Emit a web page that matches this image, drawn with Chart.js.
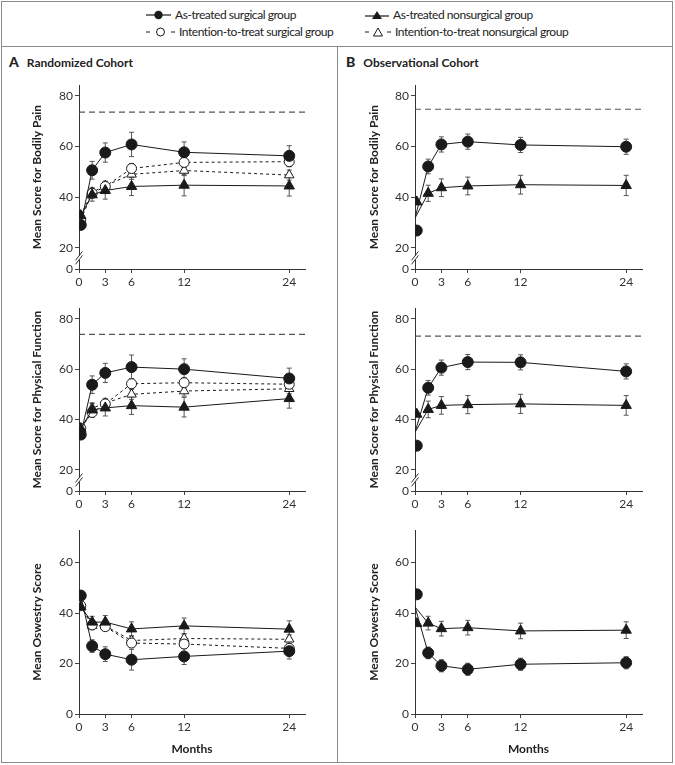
<!DOCTYPE html>
<html>
<head>
<meta charset="utf-8">
<title>Randomized and Observational Cohort Outcomes</title>
<script src="https://cdn.jsdelivr.net/npm/chart.js@4.4.1/dist/chart.umd.min.js"></script>
<style>
    body {
        margin: 0;
        background: #fff;
        font-family: "Liberation Sans Narrow", "Lato", sans-serif;
        color: #222;
    }
    #fig {
        position: relative;
        width: 675px;
        height: 765px;
        overflow: hidden;
    }
    .frame {
        position: absolute;
        left: 1px; top: 1px;
        width: 670px; height: 760px;
        border: 1.5px solid #8a8a8a;
    }
    .hline {
        position: absolute;
        left: 1px; top: 46px;
        width: 672px; height: 0;
        border-top: 1.5px solid #8a8a8a;
    }
    .vline {
        position: absolute;
        left: 337px; top: 46px;
        width: 0; height: 717px;
        border-left: 1.5px solid #8a8a8a;
    }
    .lg {
        position: absolute;
        display: flex;
        align-items: center;
        font-size: 12px;
        line-height: 14px;
        letter-spacing: -0.45px;
        white-space: nowrap;
    }
    .lg svg { margin-right: 4px; }
    .plabel {
        position: absolute;
        top: 53px;
        font-weight: bold;
        font-size: 12px;
        white-space: nowrap;
    }
    .plabel b { font-size: 14px; margin-right: 8px; }
    .box { position: absolute; }
</style>
</head>
<body>
<div id="fig">
    <div class="frame"></div>
    <div class="hline"></div>
    <div class="vline"></div>

    <div class="lg" style="left:146px; top:8px;">
        <svg width="25" height="10"><line x1="0" y1="5" x2="25" y2="5" stroke="#1a1a1a" stroke-width="1.2"/><circle cx="12.5" cy="5" r="4.2" fill="#1a1a1a"/></svg>As-treated surgical group
    </div>
    <div class="lg" style="left:146px; top:25px;">
        <svg width="29" height="10"><line x1="0" y1="5" x2="4" y2="5" stroke="#1a1a1a"/><line x1="25" y1="5" x2="29" y2="5" stroke="#1a1a1a"/><circle cx="14.5" cy="5" r="4" fill="#fff" stroke="#1a1a1a"/></svg>Intention-to-treat surgical group
    </div>
    <div class="lg" style="left:365px; top:8px;">
        <svg width="24" height="10"><line x1="0" y1="6" x2="24" y2="6" stroke="#1a1a1a" stroke-width="1.2"/><polygon points="12,1 17,9 7,9" fill="#1a1a1a"/></svg>As-treated nonsurgical group
    </div>
    <div class="lg" style="left:365px; top:25px;">
        <svg width="26" height="10"><line x1="0" y1="5" x2="4" y2="5" stroke="#1a1a1a"/><line x1="22" y1="5" x2="26" y2="5" stroke="#1a1a1a"/><polygon points="13,1 17.5,9 8.5,9" fill="#fff" stroke="#1a1a1a"/></svg>Intention-to-treat nonsurgical group
    </div>

    <div class="plabel" style="left:9px;"><b>A</b>Randomized Cohort</div>
    <div class="plabel" style="left:346px;"><b>B</b>Observational Cohort</div>

    <div class="box" style="left:4px; top:76px;"><canvas id="rBp" width="326" height="217"></canvas></div>
    <div class="box" style="left:4px; top:299px;"><canvas id="rPf" width="326" height="216"></canvas></div>
    <div class="box" style="left:4px; top:521px;"><canvas id="rOdi" width="326" height="239"></canvas></div>
    <div class="box" style="left:341px; top:76px;"><canvas id="oBp" width="326" height="217"></canvas></div>
    <div class="box" style="left:341px; top:299px;"><canvas id="oPf" width="326" height="216"></canvas></div>
    <div class="box" style="left:341px; top:521px;"><canvas id="oOdi" width="326" height="239"></canvas></div>
</div>

<script>
    // visit times (months); first entry is baseline
    const months = [0.2, 1.5, 3, 6, 12, 24];
    const xTicks = [0, 3, 6, 12, 24];
    const sf36Ticks = [0, 20, 40, 60, 80];
    const odiTicks = [0, 20, 40, 60];

    // Randomized cohort - bodily pain
    const rBpAtSurg = [29.0, 50.6, 57.6, 60.8, 57.7, 56.3];
    const rBpAtSurgErr = [0, 3.5, 3.8, 4.8, 4.1, 4.0];
    const rBpAtNon = [32.7, 40.9, 42.6, 44.2, 44.7, 44.4];
    const rBpAtNonErr = [0, 2.5, 3.4, 3.6, 4.2, 4.0];
    const rBpIttSurg = [31.0, 41.5, 44.2, 51.3, 53.7, 54.0];
    const rBpIttSurgErr = [0, 1.8, 1.8, 2.0, 2.0, 2.0];
    const rBpIttNon = [32.7, 41.9, 44.5, 49.0, 50.5, 48.7];
    const rBpIttNonErr = [0, 1.8, 1.8, 2.0, 2.0, 2.0];
    const rBpNorm = 73.6;

    // Randomized cohort - physical function
    const rPfAtSurg = [34.0, 53.8, 58.5, 60.8, 60.0, 56.3];
    const rPfAtSurgErr = [0, 3.5, 3.8, 4.8, 4.1, 4.1];
    const rPfAtNon = [36.4, 43.8, 44.6, 45.5, 44.9, 48.3];
    const rPfAtNonErr = [0, 2.8, 3.2, 3.5, 3.9, 3.8];
    const rPfIttSurg = [36.5, 42.8, 46.2, 54.2, 54.6, 54.0];
    const rPfIttSurgErr = [0, 1.8, 1.8, 2.0, 2.0, 2.0];
    const rPfIttNon = [34.9, 44.5, 46.5, 50.0, 51.3, 52.2];
    const rPfIttNonErr = [0, 1.8, 1.8, 2.0, 2.0, 2.0];
    const rPfNorm = 73.8;

    // Randomized cohort - Oswestry
    const rOdiAtSurg = [46.9, 26.9, 23.7, 21.5, 22.8, 24.9];
    const rOdiAtSurgErr = [0, 2.5, 2.9, 4.1, 3.2, 3.1];
    const rOdiAtNon = [42.4, 36.4, 36.4, 33.7, 34.9, 33.6];
    const rOdiAtNonErr = [0, 2.3, 2.6, 2.8, 3.1, 3.3];
    const rOdiIttSurg = [42.9, 35.3, 34.6, 28.1, 27.7, 26.0];
    const rOdiIttSurgErr = [0, 1.6, 1.6, 1.8, 1.8, 1.8];
    const rOdiIttNon = [42.9, 35.0, 34.9, 29.1, 29.9, 29.6];
    const rOdiIttNonErr = [0, 1.6, 1.6, 1.8, 1.8, 1.8];

    // Observational cohort (lines start from the adjusted baseline)
    const oBpStart = 31.7;
    const oBpAtSurg = [26.8, 52.1, 60.8, 61.9, 60.6, 59.9];
    const oBpAtSurgErr = [0, 2.9, 3.0, 3.0, 3.0, 3.0];
    const oBpAtNon = [38.1, 41.5, 43.7, 44.4, 44.9, 44.6];
    const oBpAtNonErr = [0, 3.2, 3.5, 3.5, 3.7, 4.0];
    const oBpNorm = 74.7;

    const oPfStart = 34.9;
    const oPfAtSurg = [29.6, 52.6, 60.6, 62.8, 62.7, 59.1];
    const oPfAtSurgErr = [0, 2.9, 3.0, 3.0, 3.0, 3.0];
    const oPfAtNon = [42.1, 44.0, 45.6, 45.9, 46.2, 45.6];
    const oPfAtNonErr = [0, 3.3, 3.5, 3.6, 3.8, 3.9];
    const oPfNorm = 73.1;

    const oOdiStart = 42.4;
    const oOdiAtSurg = [47.4, 24.2, 19.1, 17.7, 19.7, 20.3];
    const oOdiAtSurgErr = [0, 2.3, 2.4, 2.4, 2.4, 2.4];
    const oOdiAtNon = [35.8, 36.0, 33.8, 34.2, 32.9, 33.2];
    const oOdiAtNonErr = [0, 2.7, 2.9, 2.9, 3.1, 3.3];

    const X_END = 25.8;
    const BREAK_ZERO = 11.6;   // where "0" sits on the broken SF-36 axes
    const INK = '#1a1a1a';

    Chart.defaults.font.family = '"Liberation Sans Narrow", "Lato", sans-serif';
    Chart.defaults.color = '#333';

    const styles = {
        atSurg: { pointStyle: 'circle', pointRadius: 5.5, pointBackgroundColor: INK, borderDash: [] },
        atNon: { pointStyle: 'triangle', pointRadius: 6, pointBackgroundColor: INK, borderDash: [] },
        ittSurg: { pointStyle: 'circle', pointRadius: 5, pointBackgroundColor: '#fff', borderDash: [3, 3] },
        ittNon: { pointStyle: 'triangle', pointRadius: 5.5, pointBackgroundColor: '#fff', borderDash: [3, 3] }
    };

    const errorBars = {
        id: 'errorBars',
        beforeDatasetsDraw(chart) {
            const { ctx, scales: { x, y } } = chart;
            ctx.save();
            ctx.strokeStyle = '#555';
            ctx.lineWidth = 1;
            chart.data.datasets.forEach(ds => {
                if (!ds.errors) return;
                ds.data.forEach((p, i) => {
                    const e = ds.errors[i];
                    if (!e) return;
                    const px = x.getPixelForValue(p.x);
                    const t = y.getPixelForValue(p.y + e);
                    const b = y.getPixelForValue(p.y - e);
                    ctx.beginPath();
                    ctx.moveTo(px, t); ctx.lineTo(px, b);
                    ctx.moveTo(px - 2.5, t); ctx.lineTo(px + 2.5, t);
                    ctx.moveTo(px - 2.5, b); ctx.lineTo(px + 2.5, b);
                    ctx.stroke();
                });
            });
            ctx.restore();
        }
    };

    const axisBreak = {
        id: 'axisBreak',
        afterDraw(chart, args, opts) {
            if (!opts.at) return;
            const { ctx, scales: { x, y } } = chart;
            const px = x.left;
            const py = y.getPixelForValue(opts.at);
            ctx.save();
            ctx.fillStyle = '#fff';
            ctx.fillRect(px - 1.5, py - 2, 3, 4);
            ctx.strokeStyle = '#333';
            ctx.lineWidth = 1;
            [-2, 2].forEach(d => {
                ctx.beginPath();
                ctx.moveTo(px - 3.5, py + d + 4.5);
                ctx.lineTo(px + 3.5, py + d - 4.5);
                ctx.stroke();
            });
            ctx.restore();
        }
    };

    function pts(xs, ys) {
        return xs.map((m, i) => ({ x: m, y: ys[i] }));
    }

    // randomized: the line runs through the baseline marker
    function fullSeries(vals, errs, st) {
        return Object.assign({
            data: pts(months, vals),
            errors: errs,
            borderColor: INK,
            borderWidth: 1,
            pointBorderColor: INK,
            pointBorderWidth: 1,
            tension: 0
        }, st);
    }

    // observational: the line starts from the adjusted baseline, baseline marker stands alone
    function adjustedSeries(start, vals, errs, st) {
        const line = Object.assign({
            data: [{ x: 0, y: start }].concat(pts(months.slice(1), vals.slice(1))),
            errors: [0].concat(errs.slice(1)),
            borderColor: INK,
            borderWidth: 1,
            pointBorderColor: INK,
            pointBorderWidth: 1,
            tension: 0
        }, st);
        line.pointRadius = [0].concat(months.slice(1).map(() => st.pointRadius));
        const base = Object.assign({
            data: [{ x: months[0], y: vals[0] }],
            showLine: false,
            borderColor: INK,
            pointBorderColor: INK,
            pointBorderWidth: 1
        }, st);
        return [line, base];
    }

    function normLine(v) {
        return {
            data: [{ x: 0, y: v }, { x: X_END, y: v }],
            borderColor: '#555',
            borderWidth: 1.2,
            borderDash: [6, 4],
            pointRadius: 0
        };
    }

    function makeChart(id, datasets, cfg) {
        const broken = cfg.kind === 'sf36';
        const yMin = broken ? BREAK_ZERO : 0;
        const yMax = broken ? 84.2 : 72.8;
        const yTicks = broken ? sf36Ticks : odiTicks;
        new Chart(document.getElementById(id), {
            type: 'line',
            data: { datasets: datasets },
            plugins: [errorBars, axisBreak],
            options: {
                responsive: false,
                animation: false,
                layout: { padding: { top: 4, right: 25, left: 0, bottom: 0 } },
                plugins: {
                    legend: { display: false },
                    tooltip: { enabled: false },
                    axisBreak: { at: broken ? 16 : null }
                },
                scales: {
                    x: {
                        type: 'linear',
                        min: 0,
                        max: X_END,
                        afterBuildTicks: s => { s.ticks = xTicks.map(v => ({ value: v })); },
                        afterFit: s => { s.height = cfg.bottom ? 46 : 24; },
                        ticks: { padding: 2, font: { size: 12 }, color: '#333', maxRotation: 0, autoSkip: false },
                        grid: { drawOnChartArea: false, tickLength: 4, color: '#444' },
                        border: { color: '#333', width: 1 },
                        title: {
                            display: !!cfg.bottom,
                            text: 'Months',
                            font: { size: 12, weight: 'bold' },
                            color: '#222',
                            padding: { top: 0, bottom: 4 }
                        }
                    },
                    y: {
                        type: 'linear',
                        min: yMin,
                        max: yMax,
                        afterBuildTicks: s => { s.ticks = yTicks.map(v => ({ value: v === 0 ? yMin : v })); },
                        afterFit: s => { s.width = cfg.yWidth; },
                        ticks: {
                            padding: 2,
                            font: { size: 12 },
                            color: '#333',
                            callback: v => (v === yMin ? '0' : String(v))
                        },
                        grid: { drawOnChartArea: false, tickLength: 4, color: '#444' },
                        border: { color: '#333', width: 1 },
                        title: {
                            display: true,
                            text: cfg.title,
                            font: { size: 12, weight: 'bold' },
                            color: '#222',
                            padding: { top: 26, bottom: 0 }
                        }
                    }
                }
            }
        });
    }

    makeChart('rBp', [
        fullSeries(rBpAtSurg, rBpAtSurgErr, styles.atSurg),
        fullSeries(rBpAtNon, rBpAtNonErr, styles.atNon),
        fullSeries(rBpIttSurg, rBpIttSurgErr, styles.ittSurg),
        fullSeries(rBpIttNon, rBpIttNonErr, styles.ittNon),
        normLine(rBpNorm)
    ], { kind: 'sf36', title: 'Mean Score for Bodily Pain', yWidth: 75 });

    makeChart('rPf', [
        fullSeries(rPfAtSurg, rPfAtSurgErr, styles.atSurg),
        fullSeries(rPfAtNon, rPfAtNonErr, styles.atNon),
        fullSeries(rPfIttSurg, rPfIttSurgErr, styles.ittSurg),
        fullSeries(rPfIttNon, rPfIttNonErr, styles.ittNon),
        normLine(rPfNorm)
    ], { kind: 'sf36', title: 'Mean Score for Physical Function', yWidth: 75 });

    makeChart('rOdi', [
        fullSeries(rOdiAtSurg, rOdiAtSurgErr, styles.atSurg),
        fullSeries(rOdiAtNon, rOdiAtNonErr, styles.atNon),
        fullSeries(rOdiIttSurg, rOdiIttSurgErr, styles.ittSurg),
        fullSeries(rOdiIttNon, rOdiIttNonErr, styles.ittNon)
    ], { kind: 'odi', title: 'Mean Oswestry Score', yWidth: 75, bottom: true });

    makeChart('oBp', [
        ...adjustedSeries(oBpStart, oBpAtSurg, oBpAtSurgErr, styles.atSurg),
        ...adjustedSeries(oBpStart, oBpAtNon, oBpAtNonErr, styles.atNon),
        normLine(oBpNorm)
    ], { kind: 'sf36', title: 'Mean Score for Bodily Pain', yWidth: 74 });

    makeChart('oPf', [
        ...adjustedSeries(oPfStart, oPfAtSurg, oPfAtSurgErr, styles.atSurg),
        ...adjustedSeries(oPfStart, oPfAtNon, oPfAtNonErr, styles.atNon),
        normLine(oPfNorm)
    ], { kind: 'sf36', title: 'Mean Score for Physical Function', yWidth: 74 });

    makeChart('oOdi', [
        ...adjustedSeries(oOdiStart, oOdiAtSurg, oOdiAtSurgErr, styles.atSurg),
        ...adjustedSeries(oOdiStart, oOdiAtNon, oOdiAtNonErr, styles.atNon)
    ], { kind: 'odi', title: 'Mean Oswestry Score', yWidth: 74, bottom: true });
</script>
</body>
</html>
